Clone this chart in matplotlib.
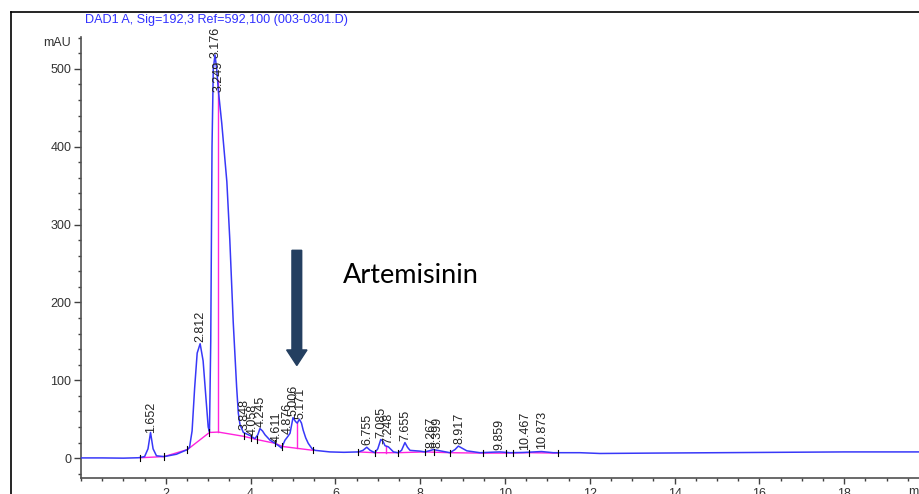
import numpy as np
import matplotlib
matplotlib.use("Agg")
import matplotlib.pyplot as plt
from matplotlib.lines import Line2D
from matplotlib.patches import FancyArrow
from matplotlib.ticker import MultipleLocator

# chromatogram trace (time in min, signal in mAU)
time_min = [0.0, 0.5, 1.0, 1.35, 1.5, 1.58, 1.64, 1.70, 1.78, 1.96, 2.25, 2.51, 2.56,
            2.62, 2.68, 2.74, 2.81, 2.88, 2.95, 3.00, 3.03, 3.06, 3.09, 3.12, 3.16, 3.20,
            3.24, 3.32, 3.44, 3.51, 3.59, 3.67, 3.71, 3.75, 3.83, 3.91, 3.99, 4.10, 4.17,
            4.22, 4.28, 4.34, 4.46, 4.58, 4.66, 4.73, 4.81, 4.88, 4.93, 5.00, 5.06, 5.10,
            5.15, 5.20, 5.24, 5.30, 5.36, 5.45, 5.52, 5.87, 6.20, 6.54, 6.65, 6.74, 6.82,
            6.93, 7.00, 7.07, 7.12, 7.17, 7.25, 7.37, 7.48, 7.56, 7.64, 7.70, 7.76, 8.00,
            8.11, 8.25, 8.31, 8.47, 8.70, 8.82, 8.90, 8.98, 9.10, 9.41, 9.72, 9.88, 10.12,
            10.43, 10.86, 11.14, 11.77, 12.24, 13.5, 15.0, 16.5, 18.0, 20.0]
signal_mau = [0.3, 0.3, 0.0, 0.5, 2, 12, 33, 12, 3, 2, 5, 11, 14,
              35, 90, 135, 147, 125, 75, 40, 34, 150, 400, 500, 518, 500,
              472, 430, 355, 280, 175, 92, 58, 43, 33, 31, 29, 25, 30,
              38, 35, 30, 23, 19, 16, 13, 23, 28, 32, 52, 47, 45,
              50, 45, 36, 26, 19, 12, 10, 8, 7.5, 8, 10, 14, 10,
              7, 12, 24, 22, 16, 14.5, 8, 7, 10, 20, 14, 10, 9,
              8, 10, 11, 9.4, 7, 11, 15.5, 13, 9.4, 7, 7.7, 8, 7,
              7.3, 8.5, 7, 7, 6, 6.5, 7, 7.5, 8, 8]

# integration baseline (magenta)
base_a_t = [1.39, 1.96, 2.51, 3.03, 3.24, 3.84, 4.14, 4.58, 4.75, 5.48]
base_a_y = [0.5, 2, 11, 33, 33.5, 28, 24, 19, 15, 10]
base_b_t = [6.54, 6.93, 7.48, 8.11, 8.70, 9.45, 10.02, 10.57, 11.25]
base_b_y = [8, 7, 7, 8, 7, 6.5, 6.5, 7, 6.5]
drop_t = [3.22, 5.09, 7.19]

# integration event marks
event_t = [1.39, 1.96, 2.51, 3.03, 3.84, 4.00, 4.14, 4.58, 4.75, 5.48, 6.54, 6.93,
           7.48, 8.11, 8.33, 8.70, 9.49, 10.02, 10.19, 10.57, 11.25]

# peak retention times
peak_rt = [1.652, 2.812, 3.176, 3.249, 3.848, 4.058, 4.245, 4.611, 4.876, 5.006, 5.171,
           6.755, 7.085, 7.248, 7.655, 8.267, 8.399, 8.917, 9.859, 10.467, 10.873]

blue = "#3838F8"
magenta = "#FF22DD"
W, H = 920, 494

fig = plt.figure(figsize=(W / 100, H / 100), dpi=100)
ax = fig.add_axes([81 / W, 1 - 478 / H, (929 - 81) / W, (478 - 37) / H])

ax.plot(base_a_t, base_a_y, color=magenta, lw=1.0, zorder=2)
ax.plot(base_b_t, base_b_y, color=magenta, lw=1.0, zorder=2)
all_bt = base_a_t + base_b_t
all_by = base_a_y + base_b_y
for t in drop_t:
    ax.plot([t, t], [np.interp(t, all_bt, all_by), np.interp(t, time_min, signal_mau)],
            color=magenta, lw=1.0, zorder=2)

ax.plot(time_min, signal_mau, color=blue, lw=1.1, zorder=3)

for t in event_t:
    yb = np.interp(t, all_bt, all_by)
    ax.plot([t, t], [yb - 4, yb + 4], color="black", lw=0.8, zorder=4)

for rt in peak_rt:
    yv = np.interp(rt, time_min, signal_mau) + 3
    ax.text(rt, yv, f"{rt:.3f}", rotation=90, ha="center", va="bottom",
            fontsize=9, family="Liberation Sans", color="#222222", clip_on=False, zorder=5)

ax.set_xlim(0, 20)
ax.set_ylim(-25.5, 541)
for s in ["top", "right"]:
    ax.spines[s].set_visible(False)
for s in ["left", "bottom"]:
    ax.spines[s].set_color("#505050")
    ax.spines[s].set_linewidth(1.2)
ax.xaxis.set_minor_locator(MultipleLocator(0.5))
ax.yaxis.set_major_locator(MultipleLocator(100))
ax.yaxis.set_minor_locator(MultipleLocator(20))
ax.set_xticks(np.arange(2, 19, 2))
ax.tick_params(axis="both", which="both", color="#404040", labelcolor="#333333",
               labelsize=9, width=1.0)
ax.tick_params(axis="y", which="major", length=5, pad=2)
ax.tick_params(axis="y", which="minor", length=2.3)
ax.tick_params(axis="x", which="major", length=4.5, pad=2.5)
ax.tick_params(axis="x", which="minor", length=2.5)
for lab in ax.get_xticklabels() + ax.get_yticklabels():
    lab.set_family("Liberation Sans")

# arrow pointing at the artemisinin peak
arrow = FancyArrow(5.09, 267, 0, -148, width=0.23, head_width=0.48, head_length=20,
                   length_includes_head=True, color="#243F60", zorder=6)
ax.add_patch(arrow)
ax.text(6.18, 234, "Artemisinin", fontsize=19.5, family="Lato", ha="left", va="center",
        color="black")

fig.text(85 / W, 1 - 20 / H, "DAD1 A, Sig=192,3 Ref=592,100 (003-0301.D)", color="#3030FF",
         fontsize=9.1, family="Liberation Sans", ha="left", va="center")
fig.text(71 / W, 1 - 43 / H, "mAU", fontsize=9, family="Liberation Sans", color="#333333",
         ha="right", va="center")
fig.text(908 / W, 1 - 492 / H, "min", fontsize=9, family="Liberation Sans", color="#333333",
         ha="left", va="center")

# outer frame
fig.add_artist(Line2D([11 / W, 11 / W], [0, 1 - 12 / H], color="black", lw=1.2))
fig.add_artist(Line2D([11 / W, 1], [1 - 12 / H, 1 - 12 / H], color="black", lw=1.2))

fig.savefig("out.png", dpi=100)
